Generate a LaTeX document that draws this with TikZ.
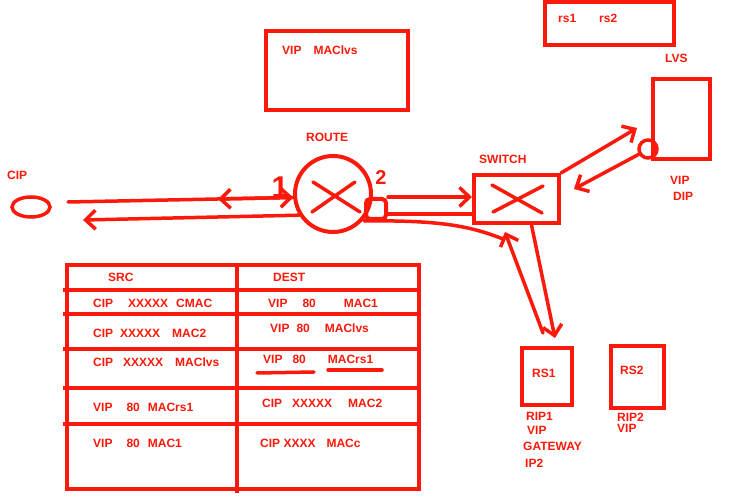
\documentclass[tikz,border=0pt]{standalone}
\usepackage{fontspec}
\setmainfont{Liberation Sans}
\usetikzlibrary{arrows.meta,shapes.geometric}
\definecolor{pen}{RGB}{250,25,10}
\newcommand{\gap}[1]{\hspace{#1pt}}

\begin{document}
\begin{tikzpicture}[x=1pt,y=-1pt,
    txt/.style={font=\fontsize{12}{14}\selectfont\bfseries, text=pen, inner sep=0pt, anchor=west},
    box/.style={draw=pen, line width=4pt, inner sep=0pt},
    wire/.style={draw=pen, line width=3.5pt, line cap=round},
    tip/.style={-{Straight Barb[length=10pt,width=19pt]}},
    hand/.style={font=\bfseries, text=pen, inner sep=0pt}]
    \useasboundingbox[fill=white] (0,0) rectangle (750,502);

    % client
    \node[txt] (ciplbl) at (7,175) {CIP};
    \node[draw=pen, line width=3.5pt, ellipse, minimum width=38pt, minimum height=20pt] (cip) at (31,207) {};

    % router
    \node[txt] (routelbl) at (306,137) {ROUTE};
    \node[draw=pen, line width=4pt, circle, minimum size=76pt, inner sep=0pt] (router) at (333,194) {};
    \draw[wire] (313,182) -- (360,212);
    \draw[wire] (312,212) -- (355,182);
    \node[box, rounded corners=4pt, minimum width=20pt, minimum height=20pt] (port2) at (376,209) {};
    \node[hand, font=\fontsize{30}{30}\selectfont\bfseries] (one) at (280,187) {1};
    \node[hand, font=\fontsize{20}{20}\selectfont\bfseries] (two) at (381,178) {2};

    \coordinate (p1) at (68,202);
    \coordinate (m1) at (218,199);
    \coordinate (p2) at (83,220);
    \draw[wire, tip] (p1) -- (router.185);
    \draw[wire, tip] (router.185) -- (m1);
    \draw[wire, tip] (router.212) -- (p2);

    % switch
    \node[txt] (switchlbl) at (479,159) {SWITCH};
    \node[box, minimum width=85pt, minimum height=48pt] (switch) at (516.5,199) {};
    \draw[wire] (492,185) -- (542,213);
    \draw[wire] (493,212) -- (543,186);

    \coordinate (q2) at ([yshift=-5pt]port2.east);
    \draw[wire, tip] (port2.north east) -- (switch.west |- port2.north east);
    \draw[wire] (q2) -- (switch.west |- q2);

    % lvs
    \node[txt] (lvslbl) at (665,58) {LVS};
    \node[box, minimum width=57pt, minimum height=80pt] (lvs) at (681.5,119) {};
    \node[draw=pen, line width=3.5pt, circle, minimum size=18pt, inner sep=0pt] (dip) at (648,149) {};
    \node[txt] (viplbl) at (670,180) {VIP};
    \node[txt] (diplbl) at (673,196) {DIP};
    \coordinate (l1) at (637,128);
    \draw[wire, tip] (switch.north east) -- (l1);
    \draw[wire, tip] (dip.210) -- ([xshift=13pt,yshift=10pt]switch.east);

    % top boxes
    \node[box, minimum width=142pt, minimum height=79pt] (vipbox) at (337,70.5) {};
    \node[txt] (viptxt) at (282,50) {VIP\gap{12}MAClvs};
    \node[box, minimum width=129pt, minimum height=43pt] (rsbox) at (609.5,23.5) {};
    \node[txt] (rstxt) at (558,18) {rs1\gap{23}rs2};

    % real servers
    \node[box, minimum width=50pt, minimum height=57pt] (rs1) at (547,376.5) {};
    \node[txt] (rs1txt) at (532,373) {RS1};
    \node[txt] (rip1) at (526,416) {RIP1};
    \node[txt] (vip1) at (527,430) {VIP};
    \node[txt] (gw1) at (523,446) {GATEWAY};
    \node[txt] (ip2) at (525,463) {IP2};
    \node[box, minimum width=53pt, minimum height=62pt] (rs2) at (637.5,377) {};
    \node[txt] (rs2txt) at (620,370) {RS2};
    \node[txt] (rip2) at (617,417) {RIP2};
    \node[txt] (vip2) at (617,428) {VIP};

    \coordinate (t1) at (505,232);
    \coordinate (t2) at (503,239);
    \draw[wire] (port2.south west) .. controls (440,220) and (470,226) .. (t2);
    \draw[wire, tip] ([xshift=-4pt,yshift=13pt]rs1.north) -- (t1);
    \draw[wire, tip] ([xshift=15pt]switch.south) -- ([xshift=8pt,yshift=8pt]rs1.north);

    % packet table
    \draw[pen, line width=4pt] (67,265) rectangle (419,489);
    \draw[pen, line width=4pt] (237,265) -- (237,493);
    \foreach \y in {290,314,349,388,424}
        \draw[pen, line width=4pt] (63,\y) -- (419,\y);
    \node[txt] (src) at (108,277) {SRC};
    \node[txt] (dest) at (273,277) {DEST};
    \node[txt] (s1) at (93,303) {CIP\gap{15}XXXXX\gap{8}CMAC};
    \node[txt] (d1) at (268,303) {VIP\gap{15}80\gap{28}MAC1};
    \node[txt] (s2) at (93,333) {CIP\gap{7}XXXXX\gap{12}MAC2};
    \node[txt] (d2) at (270,328) {VIP\gap{7}80\gap{15}MAClvs};
    \node[txt] (s3) at (93,362) {CIP\gap{10}XXXXX\gap{12}MAClvs};
    \node[txt] (d3) at (263,359) {VIP\gap{10}80\gap{22}MACrs1};
    \draw[wire] (257,373) -- (314,372);
    \draw[wire] (328,370) -- (382,370);
    \node[txt] (s4) at (93,407) {VIP\gap{14}80\gap{8}MACrs1};
    \node[txt] (d4) at (262,403) {CIP\gap{10}XXXXX\gap{16}MAC2};
    \node[txt] (s5) at (93,443) {VIP\gap{14}80\gap{8}MAC1};
    \node[txt] (d5) at (260,443) {CIP XXXX\gap{11}MACc};
\end{tikzpicture}
\end{document}
